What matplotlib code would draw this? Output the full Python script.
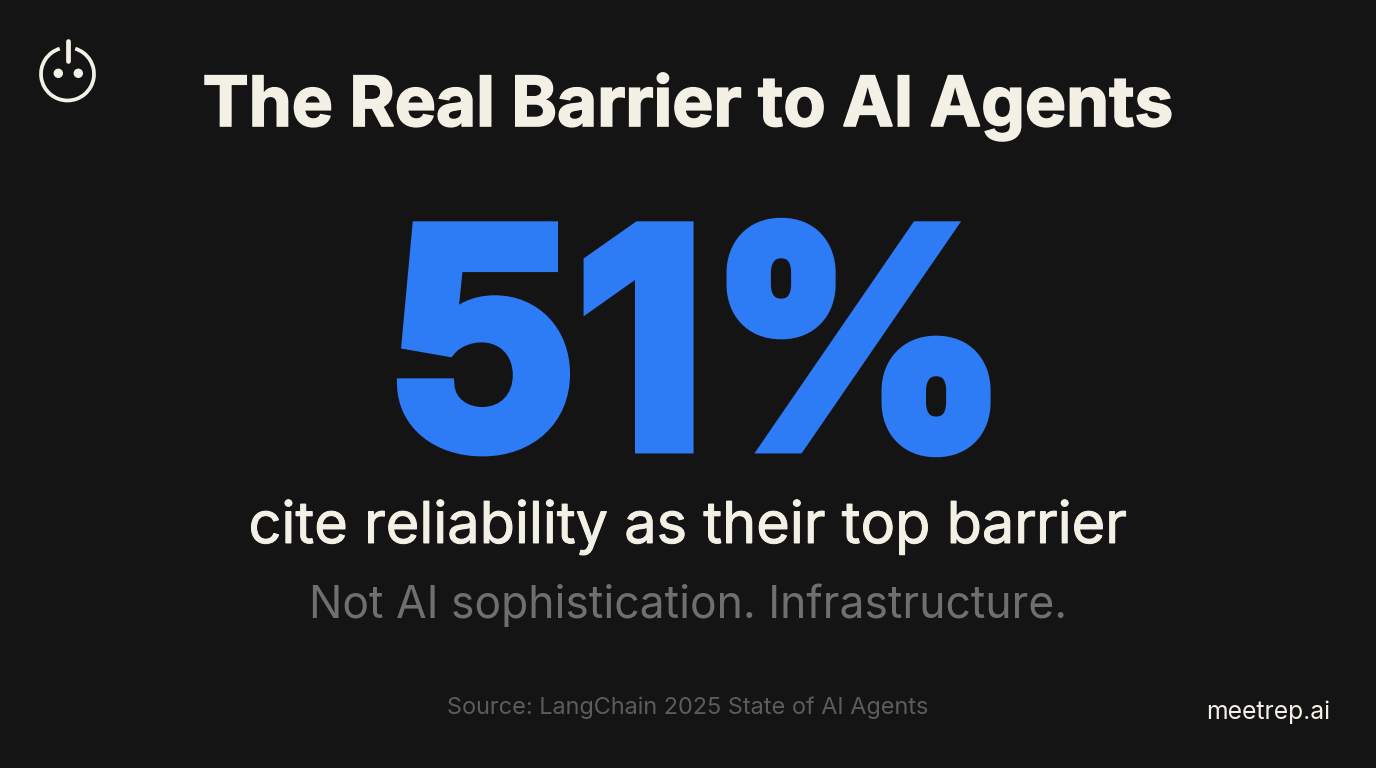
import matplotlib
matplotlib.use("Agg")
import matplotlib.pyplot as plt
import matplotlib.patheffects as pe
from matplotlib.patches import Circle, Arc

# Text content
title = "The Real Barrier to AI Agents"
stat = "51%"
subtitle = "cite reliability as their top barrier"
tagline = "Not AI sophistication. Infrastructure."
source = "Source: LangChain 2025 State of AI Agents"
brand = "meetrep.ai"

bg = "#141414"
cream = "#f3f0e6"
blue = "#2e7bf6"

fig = plt.figure(figsize=(13.76, 7.68), dpi=100, facecolor=bg)
ax = fig.add_axes([0, 0, 1, 1])
ax.set_xlim(0, 1376)
ax.set_ylim(768, 0)
ax.axis("off")


def thick(width, color):
    # fatten a glyph, the installed fonts are lighter than the original
    return [pe.withStroke(linewidth=width, foreground=color, joinstyle="miter")]


ax.text(688, 107, title, color=cream, fontsize=49.8, fontweight="bold", family="Inter",
        ha="center", va="center", path_effects=thick(1.2, cream))
ax.text(698, 368, stat, color=blue, fontsize=216, fontweight="bold", family="Inter",
        ha="center", va="center", path_effects=thick(10, blue))
ax.text(688, 527, subtitle, color=cream, fontsize=41.5, family="Inter",
        ha="center", va="center", path_effects=thick(0.7, cream))
ax.text(688, 605, tagline, color="#6f6f6f", fontsize=32, family="Inter", ha="center", va="center")
ax.text(688, 708, source, color="#5c5c5c", fontsize=16.9, family="Inter", ha="center", va="center")
ax.text(1268, 712, brand, color=cream, fontsize=17.8, family="Inter", ha="center", va="center")

# Power icon
ax.add_patch(Arc((67.5, 74), 53, 53, theta1=-73, theta2=253, color=cream, lw=2.7))
ax.plot([67.7, 67.7], [41, 61], color=cream, lw=3.4, solid_capstyle="round")
ax.add_patch(Circle((58.3, 73.3), 4, color=cream))
ax.add_patch(Circle((78.3, 73.3), 4, color=cream))

fig.savefig("out.png", dpi=100, facecolor=bg)
